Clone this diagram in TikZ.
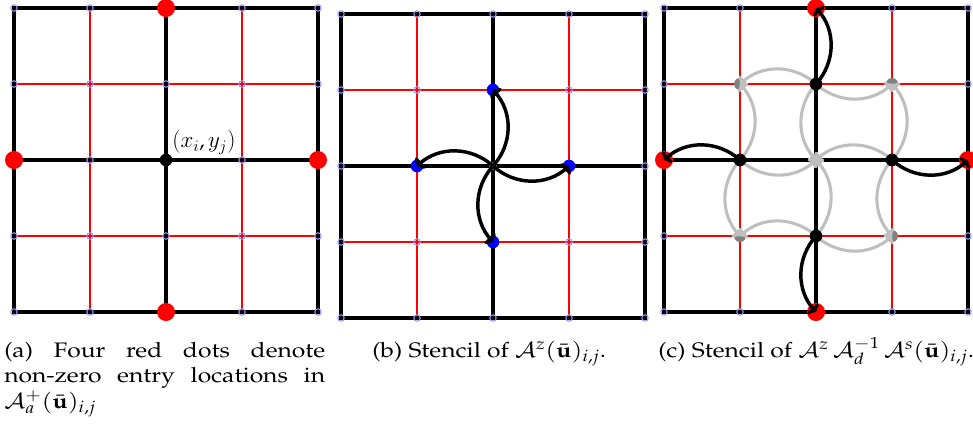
\documentclass[tikz,border=0pt]{standalone}
\usepackage[T1]{fontenc}
\usepackage{mathpazo}
\usepackage{graphicx}
\usetikzlibrary{arrows.meta}
\DeclareMathAlphabet{\mathcm}{OML}{cmm}{m}{it}
\definecolor{lightblue}{RGB}{150,150,255}
\definecolor{gridred}{RGB}{255,0,0}
\tikzset{
  redline/.style={draw=gridred, line width=1.15pt},
  blackline/.style={draw=black, line width=2.4pt},
  bluecirc/.style={draw=lightblue, line width=0.8pt},
  dotbase/.style={circle, inner sep=0pt, draw=none},
  reddot/.style={dotbase, fill=red, minimum size=13.5pt},
  blackdot/.style={dotbase, fill=black, minimum size=9.5pt},
  bluedot/.style={dotbase, fill=blue, minimum size=9.5pt},
  graydot/.style={dotbase, fill=gray, minimum size=9pt},
  blackarr/.style={draw=black, line width=2.6pt, -{To[length=4.5pt,width=11pt]}, bend right=42},
  grayarr/.style={draw=gray!50, line width=2.3pt, -{To[length=4.5pt,width=10pt]}, bend right=42},
  captionfont/.style={font=\fontsize{18.5}{22.5}\selectfont, inner sep=0pt},
  panel/.style={x=57pt, y=-57pt},
}
% grid of one panel: one unit = 76 px
\newcommand{\panelgrid}{%
  \draw[redline] (1,0)--(1,4) (3,0)--(3,4) (0,1)--(4,1) (0,3)--(4,3);
  \draw[blackline] (0,0) rectangle (4,4) (2,0)--(2,4) (0,2)--(4,2);
  \foreach \i in {0,...,4}{\foreach \j in {0,...,4}{\draw[bluecirc] (\i,\j) circle[radius=2.4pt];}}%
}
\begin{document}
\begin{tikzpicture}[x=0.75pt,y=-0.75pt]
\useasboundingbox (0,0) rectangle (973,430);

% ---------- panel (a)
\begin{scope}[shift={(14,8)}, panel]
  \panelgrid
  \node[reddot] (a-t) at (2,0) {};
  \node[reddot] (a-l) at (0,2) {};
  \node[reddot] (a-r) at (4,2) {};
  \node[reddot] (a-b) at (2,4) {};
  \node[blackdot] (a-c) at (2,2) {};
  \node[anchor=base west, inner sep=0pt, font=\fontsize{16}{19}\selectfont] (a-lab) at (2.08,1.84)
    {\mbox{\usefont{OT1}{cmr}{m}{n}(}$\mathcm{x}_{\mathcm{i}},\mathcm{y}_{\mathcm{j}}$\mbox{\usefont{OT1}{cmr}{m}{n})}};
\end{scope}

% ---------- panel (b)
\begin{scope}[shift={(341,14)}, panel]
  \panelgrid
  \coordinate (b-c) at (2,2);
  \node[bluedot] (b-t) at (2,1) {};
  \node[bluedot] (b-l) at (1,2) {};
  \node[bluedot] (b-r) at (3,2) {};
  \node[bluedot] (b-b) at (2,3) {};
  \draw[blackarr] (b-c) to (b-t.center);
  \draw[blackarr] (b-c) to (b-l.center);
  \draw[blackarr] (b-c) to (b-r.center);
  \draw[blackarr] (b-c) to (b-b.center);
\end{scope}

% ---------- panel (c)
\begin{scope}[shift={(664,8)}, panel]
  \panelgrid
  \node[reddot] (c-T) at (2,0) {};
  \node[reddot] (c-L) at (0,2) {};
  \node[reddot] (c-R) at (4,2) {};
  \node[reddot] (c-B) at (2,4) {};
  \node[graydot] (c-tl) at (1,1) {};
  \node[graydot] (c-tr) at (3,1) {};
  \node[graydot] (c-bl) at (1,3) {};
  \node[graydot] (c-br) at (3,3) {};
  \node[graydot] (c-c) at (2,2) {};
  \coordinate (c-t0) at (2,1);
  \coordinate (c-l0) at (1,2);
  \coordinate (c-r0) at (3,2);
  \coordinate (c-b0) at (2,3);
  \draw[grayarr] (c-t0) to (c-tl.center);
  \draw[grayarr] (c-t0) to (c-tr.center);
  \draw[grayarr] (c-t0) to (c-c.center);
  \draw[grayarr] (c-l0) to (c-tl.center);
  \draw[grayarr] (c-l0) to (c-bl.center);
  \draw[grayarr] (c-l0) to (c-c.center);
  \draw[grayarr] (c-r0) to (c-tr.center);
  \draw[grayarr] (c-r0) to (c-br.center);
  \draw[grayarr] (c-r0) to (c-c.center);
  \draw[grayarr] (c-b0) to (c-bl.center);
  \draw[grayarr] (c-b0) to (c-br.center);
  \draw[grayarr] (c-b0) to (c-c.center);
  \node[blackdot] (c-t) at (c-t0) {};
  \node[blackdot] (c-l) at (c-l0) {};
  \node[blackdot] (c-r) at (c-r0) {};
  \node[blackdot] (c-b) at (c-b0) {};
  \draw[blackarr] (c-t.center) to (c-T.center);
  \draw[blackarr] (c-l.center) to (c-L.center);
  \draw[blackarr] (c-r.center) to (c-R.center);
  \draw[blackarr] (c-b.center) to (c-B.center);
\end{scope}

% ---------- captions
\node[captionfont, anchor=base west] (capa) at (4,357)
  {\scalebox{1}[0.85]{\parbox[t]{240.75pt}{(a) Four red dots denote\linebreak non-zero entry locations in\linebreak $\mathcal{A}_a^+(\bar{\mathbf{u}})_{i,j}$}}};
\node[captionfont, anchor=base west] (capb) at (372,357)
  {\scalebox{1}[0.85]{(b) Stencil of $\mathcal{A}^z(\bar{\mathbf{u}})_{i,j}$.}};
\node[captionfont, anchor=base west] (capc) at (658,357)
  {\scalebox{1}[0.85]{(c) Stencil of $\mathcal{A}^z\,\mathcal{A}_d^{-1}\,\mathcal{A}^s(\bar{\mathbf{u}})_{i,j}$.}};
\end{tikzpicture}
\end{document}
